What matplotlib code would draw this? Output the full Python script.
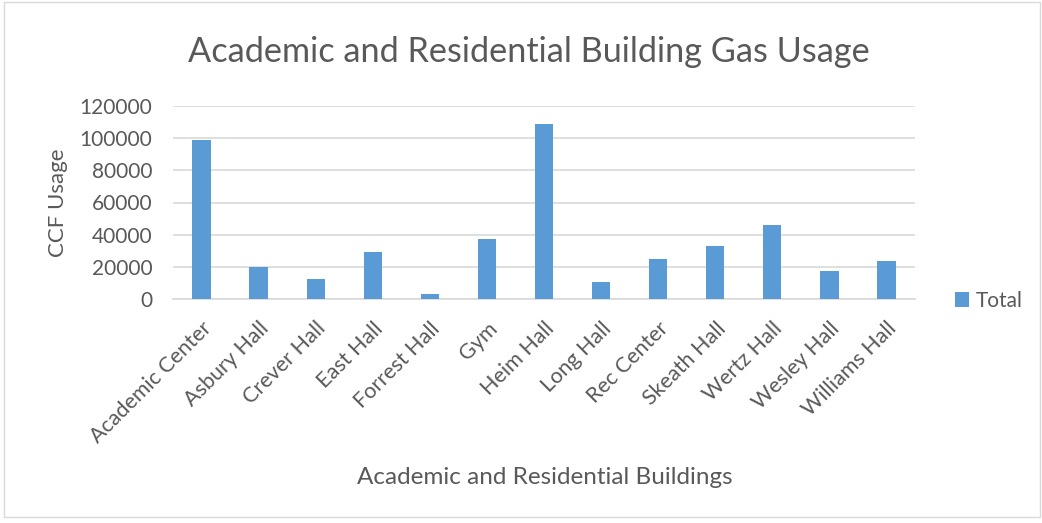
import matplotlib
matplotlib.use("Agg")
import matplotlib.pyplot as plt
import numpy as np

plt.rcParams['font.family'] = ['Lato', 'DejaVu Sans']

buildings = ['Academic Center', 'Asbury Hall', 'Crever Hall', 'East Hall', 'Forrest Hall',
             'Gym', 'Heim Hall', 'Long Hall', 'Rec Center', 'Skeath Hall', 'Wertz Hall',
             'Wesley Hall', 'Williams Hall']
total = [99000, 19800, 12400, 29500, 3100, 37300, 108500, 10500, 25000, 33200, 46000, 17500, 23500]
yticks = [0, 20000, 40000, 60000, 80000, 100000, 120000]

txt = '#595959'
bar_color = '#5b9bd5'

fig = plt.figure(figsize=(10.42, 5.23), dpi=100)
ax = fig.add_axes([173 / 1042, 1 - 299 / 523, (915 - 173) / 1042, (299 - 106) / 523])

x = np.arange(len(buildings))
ax.bar(x, total, width=0.32, color=bar_color, label='Total', zorder=3)

ax.set_xlim(-0.5, len(buildings) - 0.5)
ax.set_ylim(0, 120000)
ax.set_yticks(yticks)
ax.set_yticklabels([str(v) for v in yticks], fontsize=15, color=txt)
ax.set_xticks(x)
ax.set_xticklabels(buildings, rotation=45, ha='right', rotation_mode='anchor',
                   fontsize=15.5, color=txt)
ax.tick_params(axis='y', length=0, pad=15)
ax.tick_params(axis='x', length=0, pad=14)
ax.grid(axis='y', color='#d9d9d9', linewidth=1.2, zorder=0)
for s in ['top', 'right', 'left']:
    ax.spines[s].set_visible(False)
ax.spines['bottom'].set_color('#d9d9d9')
ax.spines['bottom'].set_linewidth(1.2)

ax.set_ylabel('CCF Usage', fontsize=16, color=txt)
ax.yaxis.set_label_coords(-0.142, 0.5)
fig.text(545 / 1042, 1 - 478 / 523, 'Academic and Residential Buildings',
         fontsize=17.5, color=txt, ha='center', va='center')
fig.text(529 / 1042, 1 - 52 / 523, 'Academic and Residential Building Gas Usage',
         fontsize=24.7, color=txt, ha='center', va='center')

ax.legend(loc='center left', bbox_to_anchor=(936 / 1042, 1 - 301 / 523),
          bbox_transform=fig.transFigure, frameon=False, fontsize=15,
          labelcolor=txt, handlelength=0.7, handleheight=0.7, handletextpad=0.3)

# chart area border
fig.patches.append(plt.Rectangle((0.004, 0.012), 0.994, 0.985, transform=fig.transFigure,
                                 fill=False, edgecolor='#d9d9d9', linewidth=1))

fig.savefig('out.png', dpi=100)
